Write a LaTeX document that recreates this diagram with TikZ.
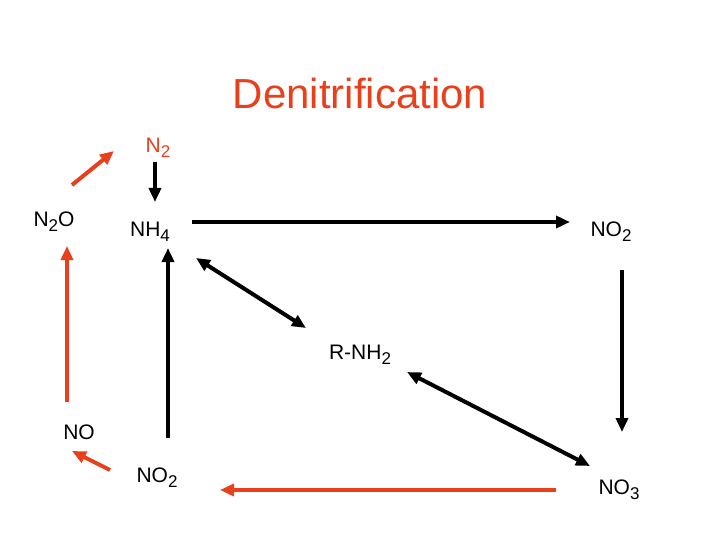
\documentclass[tikz,border=0pt]{standalone}
\usepackage{fontspec}
\setmainfont{Liberation Sans}
\usetikzlibrary{arrows.meta}
\definecolor{org}{HTML}{E8401C}
\newcommand{\sbs}[1]{\raisebox{-0.45ex}{\fontsize{17}{20}\selectfont #1}}
\begin{document}
\begin{tikzpicture}[x=1pt,y=-1pt,
  lbl/.style={font=\fontsize{21}{24}\selectfont,inner sep=0pt},
  ar/.style={line width=4pt,-{Triangle[length=14pt,width=12pt]}},
  dar/.style={line width=4pt,{Triangle[length=14pt,width=12pt]}-{Triangle[length=14pt,width=12pt]}},
  blk/.style={ar,black},
  red/.style={ar,org}]
\useasboundingbox (0,0) rectangle (720,540);
\node[font=\fontsize{42}{48}\selectfont,text=org] (t) at (360,93) {Denitrification};
\node[lbl,text=org] (n2) at (158,148) {N\sbs{2}};
\node[lbl] (n2o) at (54,222) {N\sbs{2}O};
\node[lbl] (nh4) at (150,232) {NH\sbs{4}};
\node[lbl] (no2a) at (611,232) {NO\sbs{2}};
\node[lbl] (rnh2) at (360,355) {R-NH\sbs{2}};
\node[lbl] (no) at (79,432) {NO};
\node[lbl] (no2b) at (157,478) {NO\sbs{2}};
\node[lbl] (no3) at (619,490) {NO\sbs{3}};
\coordinate (a1) at (155,162); \coordinate (a2) at (155,202);
\draw[blk] (a1) -- (a2);
\coordinate (b1) at (192,222); \coordinate (b2) at (570,222);
\draw[blk] (b1) -- (b2);
\coordinate (c1) at (622,270); \coordinate (c2) at (622,432);
\draw[blk] (c1) -- (c2);
\coordinate (d1) at (196,258); \coordinate (d2) at (306,328);
\draw[dar] (d1) -- (d2);
\coordinate (e1) at (407,372); \coordinate (e2) at (590,466);
\draw[dar] (e1) -- (e2);
\coordinate (f1) at (168,438); \coordinate (f2) at (168,248);
\draw[blk] (f1) -- (f2);
\coordinate (g1) at (556,490); \coordinate (g2) at (220,490);
\draw[red] (g1) -- (g2);
\coordinate (h1) at (110,470); \coordinate (h2) at (72,451);
\draw[red] (h1) -- (h2);
\coordinate (i1) at (67,402); \coordinate (i2) at (67,246);
\draw[red] (i1) -- (i2);
\coordinate (j1) at (72,185); \coordinate (j2) at (114,151);
\draw[red] (j1) -- (j2);
\end{tikzpicture}
\end{document}
